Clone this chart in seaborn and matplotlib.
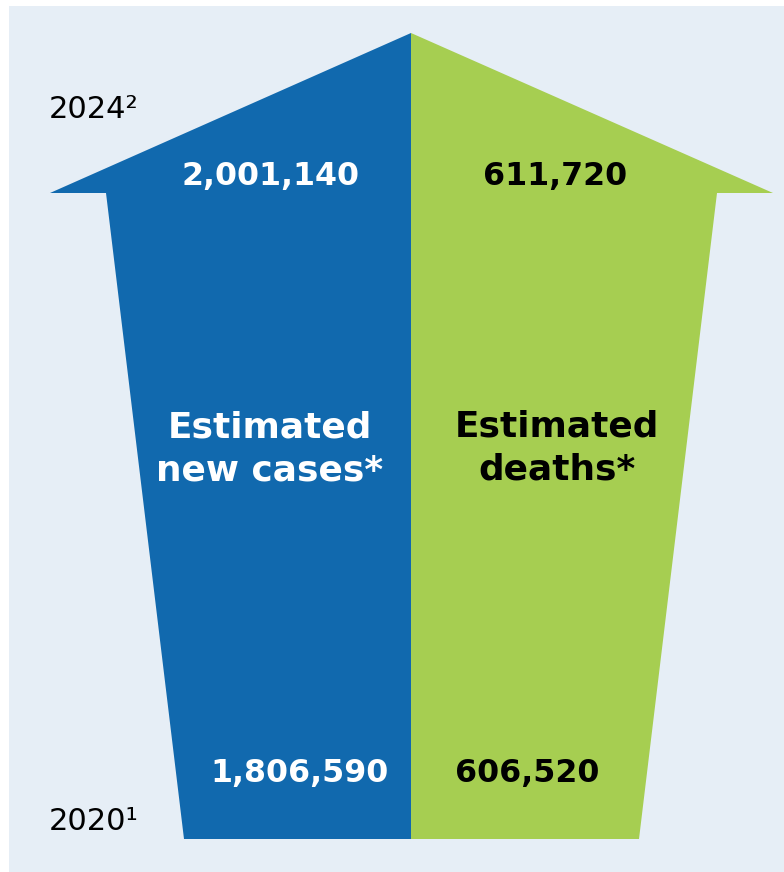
import matplotlib
matplotlib.use("Agg")
import matplotlib.pyplot as plt
import seaborn as sns

# Figures shown on the arrow
years = ["2020\u00b9", "2024\u00b2"]
new_cases = [1806590, 2001140]
deaths = [606520, 611720]
series_labels = ["Estimated\nnew cases*", "Estimated\ndeaths*"]

# Colours
CASES_COLOR = "#1169AE"
DEATHS_COLOR = "#A6CE51"
PANEL_COLOR = "#E6EEF6"

# Arrow outline in canvas units (x to the right, y downward)
TIP = (411, 33)
WING_Y = 193
BASE_Y = 839
MID_X = 411
left_half = [TIP, (50, WING_Y), (106, WING_Y), (184, BASE_Y), (MID_X, BASE_Y)]
right_half = [TIP, (773, WING_Y), (717, WING_Y), (639, BASE_Y), (MID_X, BASE_Y)]

sns.set_theme(style="white")
plt.rcParams["font.family"] = ["DejaVu Sans"]

W, H = 784, 872
fig = plt.figure(figsize=(W / 100, H / 100), dpi=100)
fig.patch.set_facecolor("white")
x0, y0 = 9, 6
ax = fig.add_axes([x0 / W, 0, (W - x0) / W, (H - y0) / H])
ax.set_facecolor(PANEL_COLOR)
ax.set_xlim(x0, W)
ax.set_ylim(H, y0)
ax.set_axis_off()
ax.add_patch(plt.Rectangle((x0, y0), W - x0, H - y0, color=PANEL_COLOR, zorder=0))

for poly, col in [(left_half, CASES_COLOR), (right_half, DEATHS_COLOR)]:
    xs, ys = zip(*poly)
    ax.fill(xs, ys, color=col, lw=0, zorder=1)

fmt = lambda v: f"{v:,}"

# Values: 2024 near the arrow head, 2020 near the base
ax.text(360, 185, fmt(new_cases[1]), ha="right", va="baseline", color="white",
        fontsize=22.8, fontweight="bold", zorder=3)
ax.text(483, 185, fmt(deaths[1]), ha="left", va="baseline", color="black",
        fontsize=22.8, fontweight="bold", zorder=3)
ax.text(389, 782, fmt(new_cases[0]), ha="right", va="baseline", color="white",
        fontsize=22.8, fontweight="bold", zorder=3)
ax.text(455, 782, fmt(deaths[0]), ha="left", va="baseline", color="black",
        fontsize=22.8, fontweight="bold", zorder=3)

# Series names (anchored on the last line's baseline)
ax.text(270, 480, series_labels[0], ha="center", va="baseline", ma="center",
        color="white", fontsize=25.8, fontweight="bold", linespacing=1.3, zorder=3)
ax.text(557, 479, series_labels[1], ha="center", va="baseline", ma="center",
        color="black", fontsize=25.8, fontweight="bold", linespacing=1.3, zorder=3)

# Year labels
ax.text(49, 118, years[1], ha="left", va="baseline", color="black", fontsize=22)
ax.text(49, 830, years[0], ha="left", va="baseline", color="black", fontsize=22)

fig.savefig("out.png", dpi=100, facecolor=fig.get_facecolor())
